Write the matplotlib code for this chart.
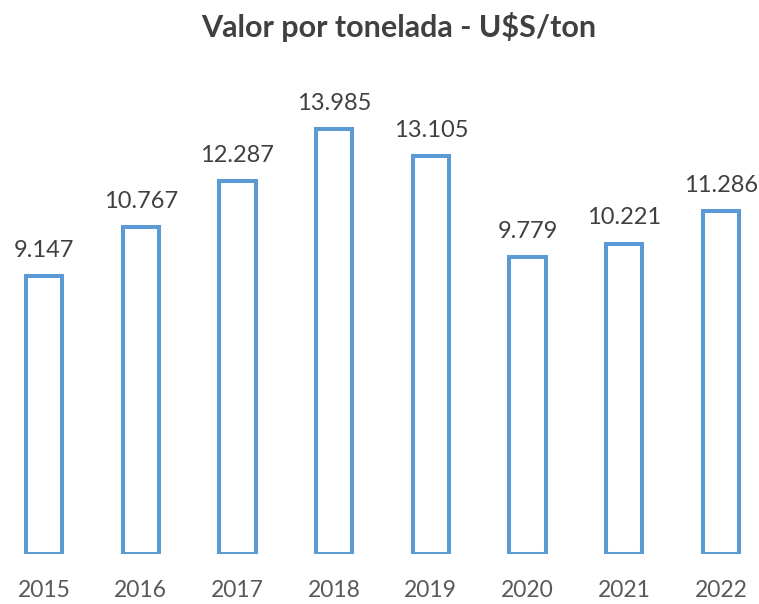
import matplotlib
matplotlib.use("Agg")
from matplotlib import pyplot as plt

# datos
anios = ["2015", "2016", "2017", "2018", "2019", "2020", "2021", "2022"]
valores = [9147, 10767, 12287, 13985, 13105, 9779, 10221, 11286]
etiquetas = ["9.147", "10.767", "12.287", "13.985", "13.105", "9.779", "10.221", "11.286"]

plt.rcParams['font.family'] = ['Lato', 'DejaVu Sans']

fig = plt.figure(figsize=(7.59, 6.04), dpi=100)
ax = fig.add_axes([0, 0.0828, 1, 0.8046])

x = range(len(anios))
ax.bar(x, valores, width=0.375, color="white", edgecolor="#5B9BD5", linewidth=2.9)

for i, (v, t) in enumerate(zip(valores, etiquetas)):
    ax.annotate(t, (i, v), xytext=(0, 11), textcoords="offset points",
                ha="center", va="bottom", fontsize=17, color="#404040")

ax.set_xlim(-0.455, 7.394)
ax.set_ylim(0, 16000)
ax.set_xticks(list(x))
ax.set_xticklabels(anios, fontsize=16.5, color="#595959")
ax.tick_params(axis="x", length=0, pad=19)
ax.set_yticks([])
for s in ax.spines.values():
    s.set_visible(False)

fig.text(0.525, 0.955, "Valor por tonelada - U$S/ton", ha="center", va="center",
         fontsize=22, fontweight="bold", color="#404040")

fig.savefig("out.png", dpi=100)
